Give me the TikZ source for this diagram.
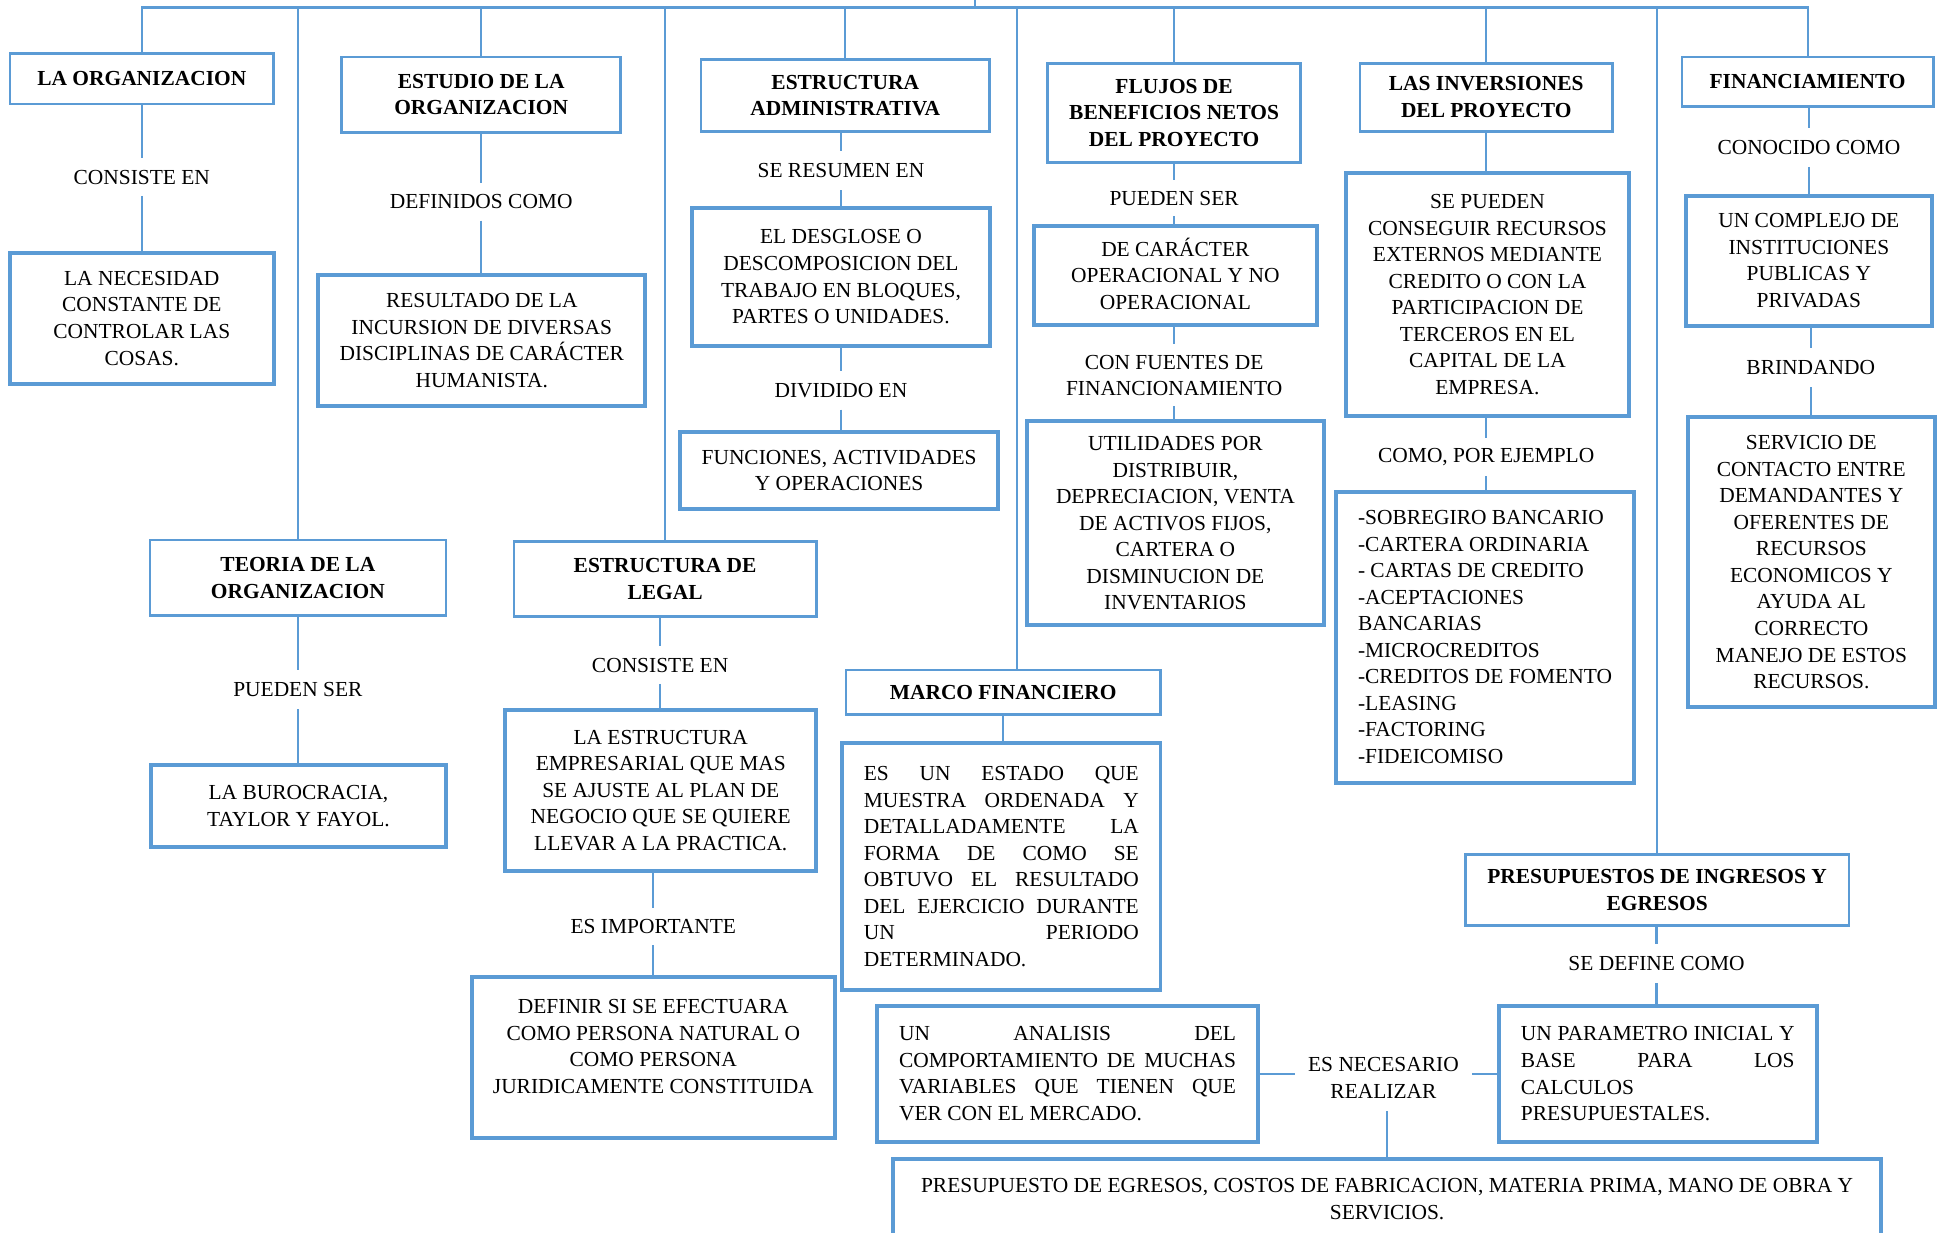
\documentclass[tikz,border=0pt]{standalone}
\usepackage{fontspec}
\setmainfont{Liberation Serif}
\definecolor{blu}{RGB}{91,155,213}
\newcommand{\jline}[2]{\makebox[#1][s]{#2}}
\tikzset{
  base/.style={font=\fontsize{17.3}{21.4}\selectfont, inner sep=0pt},
  hd/.style={base, draw=blu, line width=2.2pt, align=center, font=\fontsize{17.3}{21.4}\selectfont\bfseries},
  bx/.style={base, draw=blu, line width=3.2pt, align=center},
  lb/.style={base, align=center},
  conn/.style={draw=blu, line width=1.8pt},
  sz/.style 2 args={minimum width=#1pt, minimum height=#2pt},
}
\begin{document}
\begin{tikzpicture}[x=1pt,y=-1pt]
\path[use as bounding box, fill=white] (0,0) rectangle (1568,995.5);

% ---- column A
\node[hd, sz={213}{41}] (org) at (114.5,63.5) {LA ORGANIZACION};
\node[lb, minimum height=30pt] (lA) at (114.5,143) {CONSISTE EN};
\node[bx, sz={213}{106}] (orgB) at (114.5,257) {LA NECESIDAD\\CONSTANTE DE\\CONTROLAR LAS\\COSAS.};

% ---- column B
\node[hd, sz={239}{61}] (teo) at (240.5,466.5) {TEORIA DE LA\\ORGANIZACION};
\node[lb, minimum height=31pt] (lB) at (240.5,557) {PUEDEN SER};
\node[bx, sz={238}{66}] (teoB) at (241,651) {LA BUROCRACIA,\\TAYLOR Y FAYOL.};

% ---- column C
\node[hd, sz={225}{61}] (est) at (388.5,76.5) {ESTUDIO DE LA\\ORGANIZACION};
\node[lb, minimum height=30pt] (lC) at (388.5,163) {DEFINIDOS COMO};
\node[bx, sz={264}{106}] (estB) at (389,275) {RESULTADO DE LA\\INCURSION DE DIVERSAS\\DISCIPLINAS DE CARÁCTER\\HUMANISTA.};

% ---- column D
\node[hd, sz={244}{61}] (leg) at (537,467.5) {ESTRUCTURA DE\\LEGAL};
\node[lb, minimum height=30pt] (lD1) at (533,537) {CONSISTE EN};
\node[bx, sz={251}{130}] (legB) at (533.5,638) {LA ESTRUCTURA\\EMPRESARIAL QUE MAS\\SE AJUSTE AL PLAN DE\\NEGOCIO QUE SE QUIERE\\LLEVAR A LA PRACTICA.};
\node[lb, minimum height=30pt] (lD2) at (527.5,748) {ES IMPORTANTE};
\node[bx, sz={293}{130}, text depth=18pt] (legC) at (527.5,854) {DEFINIR SI SE EFECTUARA\\COMO PERSONA NATURAL O\\COMO PERSONA\\JURIDICAMENTE CONSTITUIDA};

% ---- column E
\node[hd, sz={233}{58}] (adm) at (682.5,77) {ESTRUCTURA\\ADMINISTRATIVA};
\node[lb, minimum height=31pt] (lE1) at (679,138) {SE RESUMEN EN};
\node[bx, sz={240}{111}] (admB) at (679,223.5) {EL DESGLOSE O\\DESCOMPOSICION DEL\\TRABAJO EN BLOQUES,\\PARTES O UNIDADES.};
\node[lb, minimum height=31pt] (lE2) at (679,315) {DIVIDIDO EN};
\node[bx, sz={257}{62}] (admC) at (677.5,380) {FUNCIONES, ACTIVIDADES\\Y OPERACIONES};

% ---- column F
\node[hd, sz={254}{36}] (mar) at (810,559) {MARCO FINANCIERO};
\node[bx, sz={257}{199}, align=left] (marB) at (808.5,699.5) {\jline{222pt}{ES UN ESTADO QUE}\\\jline{222pt}{MUESTRA ORDENADA Y}\\\jline{222pt}{DETALLADAMENTE LA}\\\jline{222pt}{FORMA DE COMO SE}\\\jline{222pt}{OBTUVO EL RESULTADO}\\\jline{222pt}{DEL EJERCICIO DURANTE}\\\jline{222pt}{UN PERIODO}\\DETERMINADO.};

% ---- column G
\node[hd, sz={204}{80}] (flu) at (948,91) {FLUJOS DE\\BENEFICIOS NETOS\\DEL PROYECTO};
\node[lb, minimum height=29pt] (lG1) at (948,160) {PUEDEN SER};
\node[bx, sz={228}{80}] (fluB) at (949,222.5) {DE CAR\smash{Á}CTER\\OPERACIONAL Y NO\\OPERACIONAL};
\node[lb, minimum height=50pt] (lG2) at (948,303) {CON FUENTES DE\\FINANCIONAMIENTO};
\node[bx, sz={240}{165}] (fluC) at (949,422.5) {UTILIDADES POR\\DISTRIBUIR,\\DEPRECIACION, VENTA\\DE ACTIVOS FIJOS,\\CARTERA O\\DISMINUCION DE\\INVENTARIOS};

% ---- column H
\node[hd, sz={204}{55}] (inv) at (1200,78.5) {LAS INVERSIONES\\DEL PROYECTO};
\node[bx, sz={228}{196}] (invB) at (1201,238) {SE PUEDEN\\CONSEGUIR RECURSOS\\EXTERNOS MEDIANTE\\CREDITO O CON LA\\PARTICIPACION DE\\TERCEROS EN EL\\CAPITAL DE LA\\EMPRESA.};
\node[lb, minimum height=31pt] (lH) at (1200,369) {COMO, POR EJEMPLO};
\node[bx, sz={240}{235}, align=left] (invC) at (1199,514.5) {-SOBREGIRO BANCARIO\\-CARTERA ORDINARIA\\- CARTAS DE CREDITO\\-ACEPTACIONES\\BANCARIAS\\-MICROCREDITOS\\-CREDITOS DE FOMENTO\\-LEASING\\-FACTORING\\-FIDEICOMISO};

% ---- column I
\node[hd, sz={310}{57}] (pre) at (1338,718.5) {PRESUPUESTOS DE INGRESOS Y\\EGRESOS};
\node[lb, minimum height=31pt] (lI) at (1337.5,778) {SE DEFINE COMO};
\node[bx, sz={257}{110}, align=left] (preB) at (1338.5,867) {\jline{221pt}{UN PARAMETRO INICIAL Y}\\\jline{221pt}{BASE PARA LOS}\\CALCULOS\\PRESUPUESTALES.};

% ---- column J
\node[hd, sz={203}{40}] (fin) at (1459.5,66) {FINANCIAMIENTO};
\node[lb, minimum height=31pt] (lJ1) at (1460.5,119) {CONOCIDO COMO};
\node[bx, sz={199}{105}] (finB) at (1460.5,210.5) {UN COMPLEJO DE\\INSTITUCIONES\\PUBLICAS Y\\PRIVADAS};
\node[lb, minimum height=31pt] (lJ2) at (1462,297) {BRINDANDO};
\node[bx, sz={199}{234}] (finC) at (1462.5,454) {SERVICIO DE\\CONTACTO ENTRE\\DEMANDANTES Y\\OFERENTES DE\\RECURSOS\\ECONOMICOS Y\\AYUDA AL\\CORRECTO\\MANEJO DE ESTOS\\RECURSOS.};

% ---- bottom
\node[bx, sz={308}{110}, align=left] (ana) at (862,867) {\jline{272pt}{UN ANALISIS DEL}\\\jline{272pt}{COMPORTAMIENTO DE MUCHAS}\\\jline{272pt}{VARIABLES QUE TIENEN QUE}\\VER CON EL MERCADO.};
\node[lb, sz={143}{53}] (nec) at (1117,870.5) {ES NECESARIO\\REALIZAR};
\node[bx, anchor=north, minimum width=798pt, inner ysep=16pt, text depth=30pt] (bot) at (1120,934) {PRESUPUESTO DE EGRESOS, COSTOS DE FABRICACION, MATERIA PRIMA, MANO DE OBRA Y\\SERVICIOS.};

% ---- top tree
\coordinate (top) at (787,6);
\coordinate (topup) at (787,-6);
\draw[conn] (top) -- (topup);
\foreach \n in {org,teo,est,leg,adm,flu,inv,pre,fin}
  \draw[conn] (\n.north) |- (top);
\draw[conn] ([xshift=11pt]mar.north) |- (top);

% ---- labelled chains
\foreach \a/\l/\b in {org/lA/orgB, teo/lB/teoB, est/lC/estB, leg/lD1/legB, legB/lD2/legC,
  adm/lE1/admB, admB/lE2/admC, flu/lG1/fluB, fluB/lG2/fluC, invB/lH/invC,
  pre/lI/preB, fin/lJ1/finB, finB/lJ2/finC}
  \draw[conn] (\l.north |- \a.south) -- (\l.north) (\l.south) -- (\l.south |- \b.north);

% ---- direct links
\draw[conn] (mar.south) -- (mar.south |- marB.north);
\draw[conn] (inv.south) -- (inv.south |- invB.north);
\draw[conn] (ana.east) -- (ana.east -| nec.west);
\draw[conn] (nec.east |- preB.west) -- (preB.west);
\draw[conn] (bot.north) -- (bot.north |- nec.south);
\end{tikzpicture}
\end{document}
